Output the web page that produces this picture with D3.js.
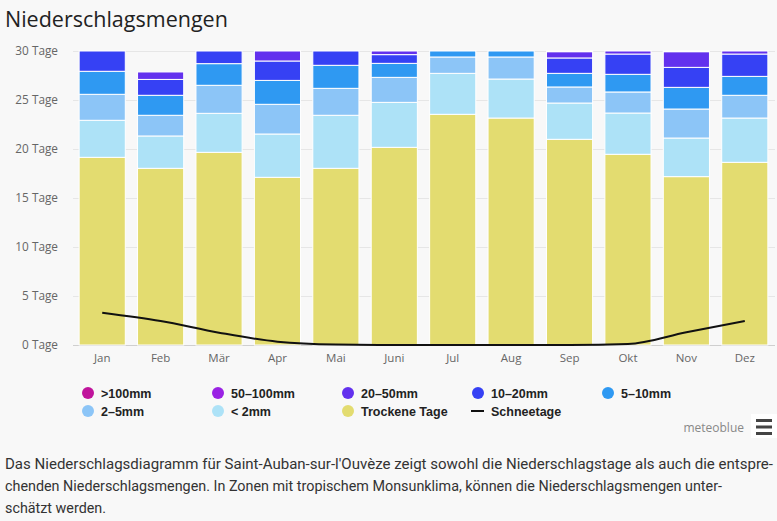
<!DOCTYPE html>
<html><head><meta charset="utf-8">
<script src="https://cdn.jsdelivr.net/npm/d3@7"></script>
<style>
html,body{margin:0;padding:0;background:#f8f8f8;}
svg{display:block;}
</style></head>
<body>
<svg id="c" width="777" height="521"></svg>
<script>
const months = ["Jan","Feb","Mär","Apr","Mai","Juni","Jul","Aug","Sep","Okt","Nov","Dez"];
const dry     = [19.15,18.03,19.66,17.11,18.03,20.17,23.54,23.16,20.99,19.46,17.18,18.64];
const lt2     = [3.78,3.30,3.98,4.42,5.41,4.59,4.18,3.98,3.70,4.21,3.94,4.52];
const mm2_5   = [2.65,2.11,2.86,3.03,2.75,2.55,1.67,2.25,1.64,2.15,2.96,2.32];
const mm5_10  = [2.35,2.04,2.21,2.44,2.35,1.43,0.61,0.61,1.39,1.80,2.21,1.93];
const mm10_20 = [2.07,1.62,1.29,1.98,1.46,0.89,0,0,1.57,2.07,2.04,2.28];
const mm20_50 = [0,0.76,0,1.02,0,0.37,0,0,0.64,0.31,1.60,0.31];
const mm50_100= [0,0,0,0,0,0,0,0,0.07,0,0.07,0];
const gt100   = [0,0,0,0,0,0,0,0,0,0,0,0];
const snow    = [3.3,2.45,1.26,0.34,0.05,0,0,0,0,0.1,1.3,2.45];
const yTicks  = [0,5,10,15,20,25,30];

const seriesNames = ["Trockene Tage","< 2mm","2–5mm","5–10mm","10–20mm","20–50mm","50–100mm",">100mm"];
const seriesData  = [dry,lt2,mm2_5,mm5_10,mm10_20,mm20_50,mm50_100,gt100];
const colors = {"Trockene Tage":"#e3dc70","< 2mm":"#ade2f7","2–5mm":"#8cc5f7","5–10mm":"#2f99f2",
  "10–20mm":"#3641f4","20–50mm":"#6331ee","50–100mm":"#9a22e4",">100mm":"#c0149c"};

const svg = d3.select("#c");
const x = d3.scaleBand().domain(months).range([73,774]).paddingInner(0.21).paddingOuter(0.105);
const y = d3.scaleLinear().domain([0,30]).range([345,51]);

// title
svg.append("text").attr("x",5).attr("y",27).attr("font-family","Open Sans, sans-serif")
  .attr("font-size",21.5).attr("fill","#222").text("Niederschlagsmengen");

// grid
svg.append("g").selectAll("line").data(yTicks).join("line")
  .attr("x1",73).attr("x2",775).attr("y1",d=>Math.round(y(d))+0.5).attr("y2",d=>Math.round(y(d))+0.5)
  .attr("stroke",d=>d===0?"#cfcfcf":"#e6e6e6").attr("stroke-width",1);

// y labels
svg.append("g").selectAll("text").data(yTicks).join("text")
  .attr("x",58).attr("y",d=>y(d)+4).attr("text-anchor","end")
  .attr("font-family","Open Sans, sans-serif").attr("font-size",11.8).attr("fill","#666")
  .text(d=>d+" Tage");

// stacked bars
const table = months.map((m,i)=>{const o={month:m}; seriesNames.forEach((s,j)=>o[s]=seriesData[j][i]); return o;});
const stack = d3.stack().keys(seriesNames)(table);
svg.append("g").selectAll("g").data(stack).join("g").attr("fill",d=>colors[d.key])
  .selectAll("rect").data(d=>d.filter(p=>p[1]-p[0]>0)).join("rect")
  .attr("x",d=>x(d.data.month)).attr("width",x.bandwidth())
  .attr("y",d=>y(d[1])).attr("height",d=>y(d[0])-y(d[1]))
  .attr("stroke","#fff").attr("stroke-width",1);

// x labels
svg.append("g").selectAll("text").data(months).join("text")
  .attr("x",d=>x(d)+x.bandwidth()/2).attr("y",362).attr("text-anchor","middle")
  .attr("font-family","Open Sans, sans-serif").attr("font-size",11.5).attr("fill","#666").text(d=>d);

// snow line
const line = d3.line().x((d,i)=>x(months[i])+x.bandwidth()/2).y(d=>y(d)).curve(d3.curveMonotoneX);
svg.append("path").attr("d",line(snow)).attr("fill","none").attr("stroke","#111").attr("stroke-width",2);

// legend
const legendItems = [">100mm","50–100mm","20–50mm","10–20mm","5–10mm","2–5mm","< 2mm","Trockene Tage","Schneetage"];
const colX = [88,218,348,478,608];
const lg = svg.append("g");
legendItems.forEach((name,i)=>{
  const cx = colX[i%5], cy = i<5?393:411;
  if(name==="Schneetage"){
    lg.append("line").attr("x1",cx-7).attr("x2",cx+6).attr("y1",cy).attr("y2",cy).attr("stroke","#111").attr("stroke-width",2);
  } else {
    lg.append("circle").attr("cx",cx).attr("cy",cy).attr("r",6).attr("fill",colors[name]);
  }
  lg.append("text").attr("x",cx+13).attr("y",cy+4.5).attr("font-family","Liberation Sans, Arial, sans-serif")
    .attr("font-weight","bold").attr("font-size",12.5).attr("fill","#222").text(name);
});

// credits
svg.append("text").attr("x",744).attr("y",432).attr("text-anchor","end").attr("font-family","Open Sans, sans-serif")
  .attr("font-size",12).attr("fill","#888").text("meteoblue");
svg.append("rect").attr("x",751).attr("y",414).attr("width",26).attr("height",24).attr("fill","#fff");
[419,425.5,432].forEach(yy=>svg.append("rect").attr("x",756).attr("y",yy).attr("width",16).attr("height",3).attr("fill","#444"));

// paragraph
const lines = ["Das Niederschlagsdiagramm für Saint-Auban-sur-l'Ouvèze zeigt sowohl die Niederschlagstage als auch die entspre-",
  "chenden Niederschlagsmengen. In Zonen mit tropischem Monsunklima, können die Niederschlagsmengen unter-",
  "schätzt werden."];
const lineWidths = [768,717,101];
lines.forEach((t,i)=>svg.append("text").attr("x",5).attr("y",469+i*22).attr("font-family","Roboto, sans-serif")
  .attr("font-size",14.5).attr("fill","#333").attr("textLength",lineWidths[i]).attr("lengthAdjust","spacingAndGlyphs").text(t));
</script>
</body></html>
